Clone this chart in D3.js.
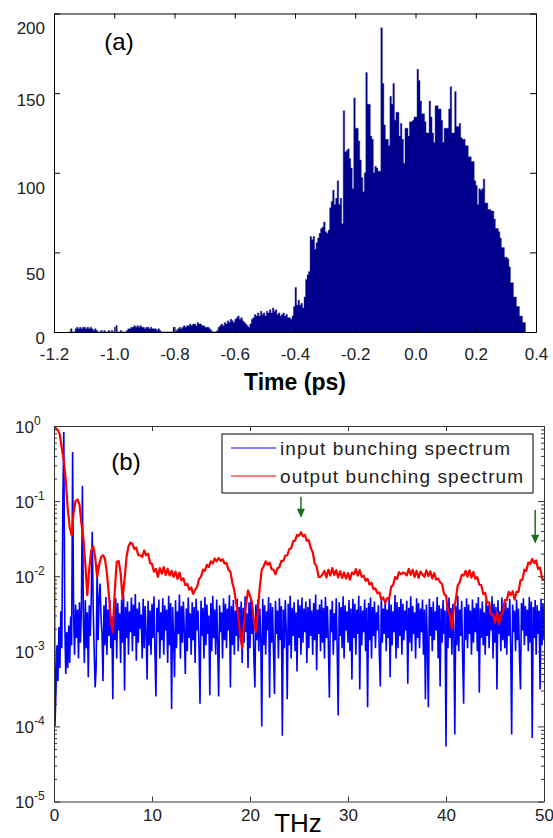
<!DOCTYPE html>
<html>
<head>
<meta charset="utf-8">
<script src="https://cdn.jsdelivr.net/npm/d3@7"></script>
<style>
  body { margin: 0; background: #fff; }
  svg { display: block; }
  text { font-family: "Liberation Sans", Arial, sans-serif; }
</style>
</head>
<body>
<svg id="fig" width="553" height="838"></svg>
<script>
// ---- (a) histogram of particle arrival time ----
var binStart = -1.15;   // ps, left edge of first bin
var binWidth = 0.005;   // ps
var counts = [
  0,2,0,0,2,3,2,3,2,3,  3,2,3,2,3,2,1,2,1,0,  0,1,0,1,0,0,1,0,1,0,
  0,4,0,0,1,0,0,0,1,2,  2,3,3,4,3,4,3,4,3,3,  2,3,3,2,3,2,2,2,1,2,
  1,0,0,0,0,0,0,0,0,3,  0,1,2,3,2,3,4,3,4,4,  5,4,5,5,4,6,5,5,4,4,
  3,3,3,2,1,0,0,0,1,3,  4,5,4,6,5,7,6,8,7,6,  8,9,10,8,9,7,6,5,4,3,
  5,8,9,11,10,12,10,13,11,12,  10,13,12,14,12,15,13,14,11,12,
  10,11,12,10,11,9,9,8,10,16,  28,17,20,17,18,15,22,33,36,38,
  60,58,60,52,56,59,62,65,66,69,  63,62,64,78,82,89,80,84,95,80,
  84,68,139,113,114,115,109,103,90,147,  128,128,120,108,97,88,100,163,143,143,
  123,121,100,104,103,101,101,191,156,130,  121,121,117,148,143,156,133,138,138,123,
  131,121,106,128,128,123,132,132,133,135,  135,165,158,145,137,137,132,125,125,145,
  135,125,119,142,142,140,140,133,119,128,  128,128,140,154,125,125,151,129,129,131,
  122,121,121,117,117,110,110,107,107,95,  92,80,90,89,90,96,81,81,77,77,
  76,76,71,65,65,63,59,53,53,47,  47,46,41,31,31,22,22,16,16,10,
  10,6,6,0
];
var timeTicks = [-1.2, -1.0, -0.8, -0.6, -0.4, -0.2, 0.0, 0.2, 0.4];
var countTicks = [0, 50, 100, 150, 200];

// ---- (b) bunching spectra ----
var inputStep = 0.1;    // THz
var inputUnit = 1e-3;   // inputSpec values are in units of 1e-3
var inputSpec = [
  900,0.1,0.3,1.2,0.4,2.1,0.6,3.4,1.1,90,
  830,2.5,0.5,1.8,0.6,2.2,0.7,2.9,1.2,450,
  3.1,0.9,4.2,1.5,3.6,0.8,4.5,1.3,3.9,160,
  2.6,0.7,4.8,1.1,3.3,0.45,4.1,1.6,5.2,39,
  3.8,1.0,0.33,0.6,14,1.4,5.0,8,2.8,1.7,
  0.4,4.1,1.2,5.3,0.9,3.6,1.6,4.8,1.1,2.9,
  0.23,3.8,1.4,5.1,0.8,4.4,1.9,3.2,0.7,4.9,
  1.3,5.6,0.30,3.9,1.5,4.6,0.9,3.4,1.8,5.2,
  1.0,4.2,1.6,5.8,0.75,3.7,1.3,4.5,2.0,3.1,
  0.8,5.0,1.1,4.0,1.7,0.42,4.7,1.2,3.5,0.9,
  4.3,1.5,5.4,1.0,0.25,3.8,1.8,4.9,0.8,3.3,
  1.4,5.1,0.9,4.1,1.9,3.6,0.7,5.5,1.2,4.4,
  0.17,3.9,1.6,0.45,4.8,1.1,3.4,1.7,5.7,0.8,
  4.0,1.3,4.6,1.8,0.5,3.7,1.0,5.2,1.5,3.2,
  0.9,4.5,1.4,3.9,0.7,5.0,1.9,3.5,1.1,0.2,
  4.7,1.6,3.8,0.8,5.3,1.2,4.2,1.7,3.0,0.26,
  4.4,1.0,5.5,1.5,3.6,0.9,4.9,1.3,0.25,4.1,
  1.8,3.3,0.8,5.1,1.4,4.3,1.1,3.7,1.9,5.6,
  0.33,4.0,1.2,4.8,0.9,3.5,1.6,5.0,1.0,3.9,
  1.5,4.6,0.7,3.8,1.3,5.4,1.8,3.2,0.6,4.5,
  1.1,5.2,1.7,3.6,0.8,0.33,4.2,1.4,4.9,1.0,
  3.7,1.6,0.1,5.0,1.2,4.1,0.9,3.4,1.9,5.3,
  0.24,4.4,1.3,3.9,1.0,0.27,4.7,1.7,3.5,0.8,
  5.1,1.4,4.0,0.075,3.6,1.1,4.8,1.9,0.23,4.3,
  1.2,5.5,0.8,3.8,1.6,4.5,1.0,3.3,0.54,4.9,
  1.5,4.1,0.9,5.2,1.3,3.7,1.8,4.6,0.7,3.9,
  1.1,5.0,1.6,3.5,0.9,4.4,1.4,5.7,0.56,3.6,
  1.7,4.2,1.0,4.9,1.3,3.8,0.8,5.3,1.5,4.0,
  1.2,0.24,3.6,1.8,4.7,0.9,3.2,1.4,5.1,1.0,
  0.14,4.5,1.6,3.9,1.1,5.4,0.8,4.1,1.9,3.4,
  1.3,4.8,1.0,3.7,0.42,5.0,1.5,4.3,0.9,3.6,
  1.7,5.5,0.31,4.0,1.2,3.5,1.8,4.9,1.0,3.8,
  0.18,4.4,1.4,5.2,0.8,3.9,1.6,4.6,1.1,3.3,
  1.9,4.1,0.9,0.34,5.3,1.3,3.7,1.7,4.8,1.0,
  3.6,1.5,5.1,0.45,4.2,1.2,3.4,1.8,5.6,0.8,
  4.5,1.1,3.9,1.6,5.0,0.9,4.3,1.4,3.5,1.9,
  4.7,0.37,3.8,1.3,5.4,1.0,4.0,1.7,3.3,0.8,
  5.1,1.5,4.4,1.1,3.7,1.8,4.9,0.9,3.6,0.23,
  4.2,1.2,0.18,5.0,1.6,3.9,1.0,4.6,1.4,3.4,
  1.9,5.3,0.8,4.1,0.34,3.7,1.3,4.8,1.7,3.5,
  0.054,4.5,1.1,5.2,1.5,3.8,0.9,4.3,1.8,0.078,
  4.0,1.2,5.5,1.0,3.6,1.6,4.7,0.8,0.2,3.9,
  1.4,5.1,1.1,4.2,1.7,3.5,0.9,4.9,1.3,3.8,
  1.8,4.4,1.0,5.3,0.28,3.7,1.5,4.6,1.2,3.3,
  0.9,5.0,1.6,4.1,1.1,3.6,1.9,5.4,0.8,4.3,
  1.3,3.9,0.31,4.8,1.7,3.4,1.0,5.2,1.4,4.0,
  1.1,4.5,0.9,3.8,1.6,5.0,1.2,0.078,4.2,1.8,
  3.5,1.0,4.9,1.4,3.7,0.8,0.31,4.4,1.9,5.1,
  1.2,4.0,1.6,3.6,1.0,5.3,1.3,4.6,0.07,3.9,
  1.5,4.8,0.9,4.1,1.7,3.5,0.31,5.0,1.2,4.4,
  1.4
];
var outputStep = 0.2;   // THz
var outputSpec = [
  0.95,0.93,0.88,0.76,0.5,0.35,0.19,0.08,0.045,0.035,
  0.07,0.1,0.105,0.09,0.05,0.032,0.014,0.0056,0.0125,0.022,
  0.025,0.018,0.0098,0.014,0.018,0.019,0.017,0.011,0.0056,0.0025,
  0.0018,0.0063,0.0155,0.016,0.011,0.005,0.009,0.018,0.025,0.028,
  0.027,0.023,0.024,0.019,0.019,0.018,0.022,0.019,0.02,0.015,
  0.0145,0.0115,0.0125,0.0098,0.0128,0.0108,0.0132,0.0104,0.0125,0.0102,
  0.0118,0.0098,0.0115,0.0092,0.0112,0.0088,0.0094,0.0076,0.0079,0.0066,
  0.0071,0.0058,0.0066,0.0072,0.0092,0.0098,0.0122,0.0118,0.0142,0.0132,
  0.0158,0.0148,0.0172,0.0158,0.0175,0.016,0.0168,0.0148,0.015,0.0122,
  0.0115,0.0082,0.0065,0.0042,0.0031,0.0016,0.0011,0.0024,0.0042,0.0065,
  0.0055,0.0045,0.0025,0.0018,0.0034,0.0072,0.0122,0.0136,0.0158,0.0142,
  0.0152,0.0124,0.0122,0.0106,0.0128,0.0132,0.016,0.016,0.0188,0.019,
  0.0228,0.0235,0.0292,0.0298,0.0355,0.0345,0.0385,0.034,0.0355,0.0295,
  0.0302,0.0238,0.0208,0.0148,0.0135,0.0098,0.0098,0.0106,0.0118,0.0096,
  0.0122,0.0102,0.0128,0.0104,0.012,0.0096,0.0116,0.0095,0.0112,0.0093,
  0.011,0.009,0.0112,0.0106,0.0124,0.0102,0.012,0.0098,0.0102,0.0087,
  0.0092,0.0077,0.0082,0.0067,0.0069,0.0059,0.0061,0.0049,0.0052,0.0044,
  0.0051,0.005,0.0072,0.0076,0.0097,0.0092,0.0113,0.0106,0.0112,0.0109,
  0.0102,0.0125,0.0104,0.0122,0.0098,0.0118,0.0095,0.0115,0.0106,0.0098,
  0.012,0.01,0.0116,0.0093,0.011,0.009,0.0093,0.0083,0.0078,0.0058,
  0.0055,0.0035,0.003,0.002,0.0037,0.0049,0.0076,0.0083,0.0104,0.0102,
  0.0118,0.0099,0.012,0.0096,0.0114,0.0092,0.0097,0.0077,0.0076,0.0058,
  0.006,0.0044,0.0045,0.0031,0.0031,0.0024,0.0033,0.0023,0.003,0.0033,
  0.0048,0.0048,0.0062,0.0056,0.0063,0.0049,0.0062,0.0062,0.0088,0.009,
  0.0122,0.0118,0.0152,0.0146,0.017,0.015,0.0162,0.0125,0.013,0.0094,
  0.0088
];
var freqTicks = [0, 10, 20, 30, 40, 50];
var decadeTicks = [1e-5, 1e-4, 1e-3, 1e-2, 1e-1, 1];
var legendLabels = ['input bunching spectrum', 'output bunching spectrum'];
var seriesColors = ['#0000ff', '#ff0000'];
// green arrows marking the harmonics (frequency, start value, tip value)
var arrowFreq = [25.2, 49.1];
var arrowFrom = [0.114, 0.076];
var arrowTo = [0.060, 0.027];

var svg = d3.select('#fig');
var tickFont = '17px "Liberation Sans", Arial, sans-serif';

function styleTicks(g, color) {
  g.attr('color', color);
  g.selectAll('text').style('font', tickFont).attr('fill', '#222');
}

// ================= panel (a) =================
var xa = d3.scaleLinear().domain([-1.2, 0.4]).range([54, 536]);
var ya = d3.scaleLinear().domain([0, 200]).range([332, 13.5]);
var ga = svg.append('g');

// histogram drawn as one stepped area so neighbouring bins don't leave seams
var histArea = d3.area()
  .curve(d3.curveStepAfter)
  .x(function(d, i) { return xa(binStart + i * binWidth); })
  .y0(ya(0))
  .y1(function(d) { return ya(d); });

ga.append('path')
  .datum(counts)
  .attr('d', histArea)
  .attr('fill', '#00008c')
  .attr('stroke', '#1a1a8c')
  .attr('stroke-width', 0.4);

var axBottomA = ga.append('g')
  .attr('transform', 'translate(0,' + ya(0) + ')')
  .call(d3.axisBottom(xa).tickValues(timeTicks)
    .tickFormat(function(d) { return d.toFixed(1); })
    .tickSizeInner(-5).tickSizeOuter(0).tickPadding(16));
styleTicks(axBottomA, '#000');

var axTopA = ga.append('g')
  .attr('transform', 'translate(0,' + ya(200) + ')')
  .call(d3.axisTop(xa).tickValues(timeTicks).tickFormat('')
    .tickSizeInner(-5).tickSizeOuter(0));
styleTicks(axTopA, '#000');

// labels in the original sit a little below their ticks
var countLabelShift = {0: 6, 50: 22, 100: 15, 150: 7, 200: 15};
var axLeftA = ga.append('g')
  .attr('transform', 'translate(' + xa(-1.2) + ',0)')
  .call(d3.axisLeft(ya).tickValues(countTicks)
    .tickSizeInner(-6).tickSizeOuter(0).tickPadding(9));
styleTicks(axLeftA, '#000');
axLeftA.selectAll('text').attr('y', function(d) { return countLabelShift[d]; });

var axRightA = ga.append('g')
  .attr('transform', 'translate(' + xa(0.4) + ',0)')
  .call(d3.axisRight(ya).tickValues(countTicks).tickFormat('')
    .tickSizeInner(-6).tickSizeOuter(0));
styleTicks(axRightA, '#000');

ga.append('text')
  .attr('x', 119).attr('y', 50)
  .attr('text-anchor', 'middle')
  .style('font-size', '24px')
  .text('(a)');

ga.append('text')
  .attr('x', 295).attr('y', 390)
  .attr('text-anchor', 'middle')
  .style('font-size', '23px')
  .style('font-weight', 'bold')
  .text('Time (ps)');

// ================= panel (b) =================
var xb = d3.scaleLinear().domain([0, 50]).range([54, 544]);
var yb = d3.scaleLog().domain([1e-5, 1]).range([801.5, 426]);
var gb = svg.append('g');

gb.append('clipPath').attr('id', 'clipb')
  .append('rect')
    .attr('x', xb(0)).attr('y', yb(1))
    .attr('width', xb(50) - xb(0)).attr('height', yb(1e-5) - yb(1));

var inputLine = d3.line()
  .x(function(d, i) { return xb(i * inputStep); })
  .y(function(d) { return yb(d * inputUnit); });
var outputLine = d3.line()
  .x(function(d, i) { return xb(i * outputStep); })
  .y(function(d) { return yb(d); });

var plotB = gb.append('g').attr('clip-path', 'url(#clipb)');
plotB.append('path')
  .datum(inputSpec)
  .attr('d', inputLine)
  .attr('fill', 'none')
  .attr('stroke', seriesColors[0])
  .attr('stroke-width', 1.6);
plotB.append('path')
  .datum(outputSpec)
  .attr('d', outputLine)
  .attr('fill', 'none')
  .attr('stroke', seriesColors[1])
  .attr('stroke-width', 2.2)
  .attr('stroke-linejoin', 'round');

// axes
var axBottomB = gb.append('g')
  .attr('transform', 'translate(0,' + yb(1e-5) + ')')
  .call(d3.axisBottom(xb).tickValues(freqTicks)
    .tickSizeInner(-5).tickSizeOuter(0).tickPadding(7));
styleTicks(axBottomB, '#333');

var axTopB = gb.append('g')
  .attr('transform', 'translate(0,' + yb(1) + ')')
  .call(d3.axisTop(xb).tickValues(freqTicks).tickFormat('')
    .tickSizeInner(-5).tickSizeOuter(0));
styleTicks(axTopB, '#333');

var minorTicks = yb.ticks().filter(function(d) {
  return decadeTicks.indexOf(d) < 0;
});

[['left', xb(0), d3.axisLeft], ['right', xb(50), d3.axisRight]].forEach(function(side) {
  var minor = gb.append('g')
    .attr('transform', 'translate(' + side[1] + ',0)')
    .call(side[2](yb).tickValues(minorTicks).tickFormat('')
      .tickSizeInner(-3).tickSizeOuter(0));
  styleTicks(minor, '#333');
  var major = gb.append('g')
    .attr('transform', 'translate(' + side[1] + ',0)')
    .call(side[2](yb).tickValues(decadeTicks).tickFormat('')
      .tickSizeInner(-6).tickSizeOuter(0));
  styleTicks(major, '#333');
  if (side[0] === 'left') {
    major.selectAll('.tick').each(function(d) {
      var t = d3.select(this).append('text')
        .attr('x', 15 - side[1])
        .attr('y', 6)
        .attr('text-anchor', 'start')
        .attr('fill', '#222')
        .style('font', tickFont);
      t.append('tspan').text('10');
      t.append('tspan')
        .attr('dy', -8)
        .style('font-size', '12px')
        .text(String(Math.round(Math.log10(d))));
    });
  }
});

gb.append('text')
  .attr('x', 126).attr('y', 470)
  .attr('text-anchor', 'middle')
  .style('font-size', '24px')
  .text('(b)');

gb.append('text')
  .attr('x', 298).attr('y', 832)
  .attr('text-anchor', 'middle')
  .style('font-size', '26px')
  .text('THz');

// legend
var legend = gb.append('g');
legend.append('rect')
  .attr('x', 222).attr('y', 434)
  .attr('width', 311).attr('height', 59)
  .attr('fill', '#fff')
  .attr('stroke', '#000')
  .attr('stroke-width', 1);
var legendText = [230, 243];
legendLabels.forEach(function(label, i) {
  var ly = 448 + i * 28;
  legend.append('line')
    .attr('x1', 231).attr('x2', 276)
    .attr('y1', ly).attr('y2', ly)
    .attr('stroke', seriesColors[i])
    .attr('stroke-width', 1.2);
  legend.append('text')
    .attr('x', 280).attr('y', ly + 7)
    .attr('textLength', legendText[i])
    .attr('lengthAdjust', 'spacing')
    .attr('fill', '#222')
    .style('font-size', '19px')
    .text(label);
});

// arrows
arrowFreq.forEach(function(f, i) {
  var ax = xb(f), y1 = yb(arrowFrom[i]), y2 = yb(arrowTo[i]);
  gb.append('line')
    .attr('x1', ax).attr('x2', ax)
    .attr('y1', y1).attr('y2', y2 - 6)
    .attr('stroke', '#1b6e1b')
    .attr('stroke-width', 1.5);
  gb.append('path')
    .attr('d', 'M' + (ax - 4) + ',' + (y2 - 9) + 'L' + (ax + 4) + ',' + (y2 - 9) + 'L' + ax + ',' + y2 + 'Z')
    .attr('fill', '#1b6e1b');
});
</script>
</body>
</html>
